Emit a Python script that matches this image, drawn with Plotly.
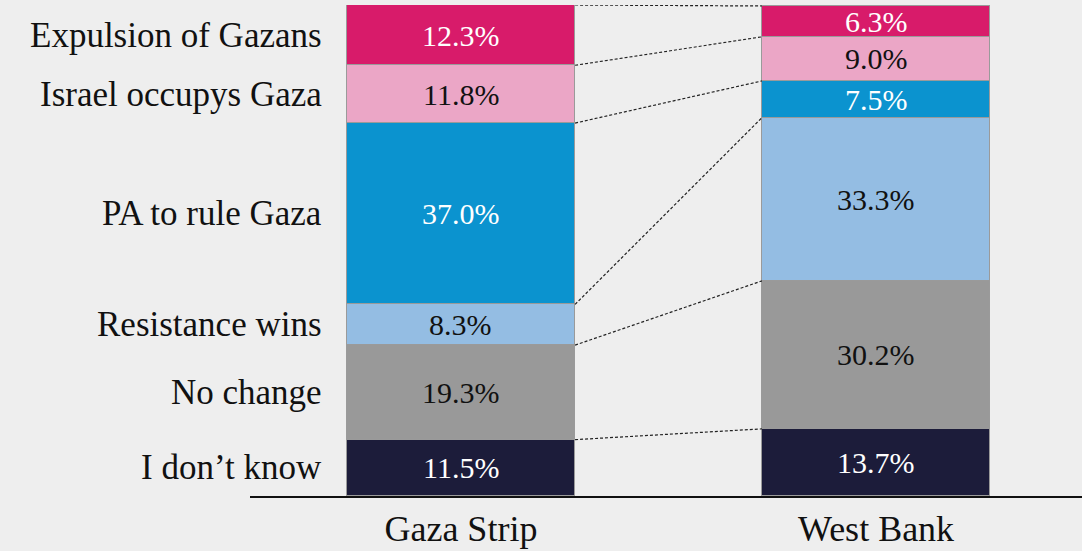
import plotly.graph_objects as go
import numpy as np

regions = ["Gaza Strip", "West Bank"]
answers = ["I don\u2019t know", "No change", "Resistance wins", "PA to rule Gaza",
           "Israel occupys Gaza", "Expulsion of Gazans"]
gaza = [11.5, 19.3, 8.3, 37.0, 11.8, 12.3]
west_bank = [13.7, 30.2, 33.3, 7.5, 9.0, 6.3]
colors = ["#1c1c3a", "#999999", "#94bde3", "#0b93cf", "#eba6c6", "#d81b6a"]
text_colors = ["white", "#111111", "#111111", "white", "#111111", "white"]

BG = "#eeeeee"
FONT = "Liberation Serif"
W = 0.55
xs = [0, 1]

fig = go.Figure()
for i, name in enumerate(answers):
    fig.add_trace(go.Bar(
        x=xs, y=[gaza[i], west_bank[i]], name=name, width=W,
        marker=dict(color=colors[i], line=dict(color="#9a9a9a", width=1)),
        hoverinfo="skip", showlegend=False))

cg = np.cumsum(gaza)
cw = np.cumsum(west_bank)
# connectors
for i in range(len(answers)):
    fig.add_trace(go.Scatter(
        x=[xs[0] + W / 2, xs[1] - W / 2], y=[cg[i], cw[i]], mode="lines",
        line=dict(color="#222222", width=1.2, dash="3px,2px"),
        hoverinfo="skip", showlegend=False))

ann = []
for i, name in enumerate(answers):
    for x, vals, cum in [(xs[0], gaza, cg), (xs[1], west_bank, cw)]:
        ann.append(dict(x=x, y=cum[i] - vals[i] / 2, text=f"{vals[i]:.1f}%",
                        showarrow=False, xanchor="center", yanchor="middle",
                        font=dict(family=FONT, size=30, color=text_colors[i])))
    ann.append(dict(x=-0.33, y=cg[i] - gaza[i] / 2, text=name, showarrow=False,
                    xanchor="right", yanchor="middle",
                    font=dict(family=FONT, size=35, color="#111111")))

fig.update_layout(
    width=1082, height=551, barmode="stack", bargap=0,
    paper_bgcolor=BG, plot_bgcolor=BG,
    margin=dict(l=250, r=0, t=5, b=55),
    annotations=ann,
    xaxis=dict(range=[-0.508, 1.496], tickvals=xs, ticktext=regions,
               showline=True, linecolor="#111111", linewidth=1.5,
               showgrid=False, zeroline=False, ticks="",
               tickfont=dict(family=FONT, size=36, color="#111111")),
    yaxis=dict(range=[0, 100.2], visible=False, showgrid=False),
)
fig.write_html("out.html", config={"displayModeBar": False},
               post_script="document.body.style.margin='0';"
                           "document.body.style.background='#eeeeee';")
